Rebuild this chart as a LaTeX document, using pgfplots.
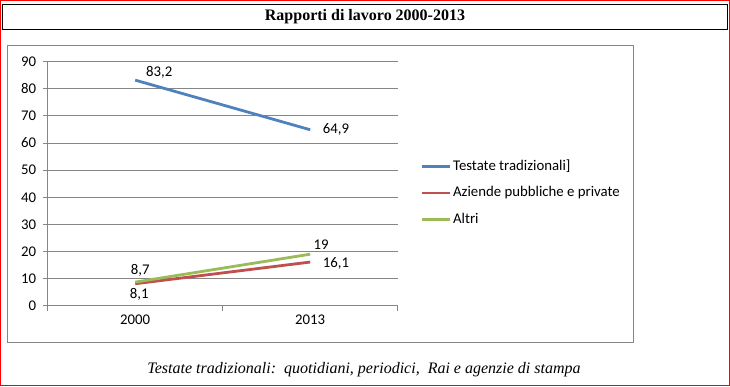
\documentclass[border=0pt]{standalone}
\usepackage{pgfplots}
\pgfplotsset{compat=1.18}
\usepackage{fontspec}
\setmainfont{Carlito}
\newfontfamily\tnr{Liberation Serif}
\definecolor{cblue}{HTML}{4F81BD}
\definecolor{cred}{HTML}{C0504D}
\definecolor{cgreen}{HTML}{9BBB59}
\definecolor{cgrid}{HTML}{868686}
\newcommand{\cf}{\fontsize{14.8}{16}\selectfont}
\begin{document}
\begin{tikzpicture}[x=1pt,y=1pt]
\path (0,0) rectangle (730,386);
\draw[red, line width=1.3pt] (0.65,0.65) rectangle (729.35,385.35);
\draw[black, line width=1.2pt] (2.2,386-4.5) rectangle (727.5,386-29.5);
\node[font=\tnr\bfseries\fontsize{16}{18}\selectfont] at (365,386-17) {Rapporti di lavoro 2000-2013};
\draw[cgrid, line width=0.9pt] (7.5,386-45) rectangle (633.5,386-342);
\node[font=\tnr\itshape\fontsize{16}{18}\selectfont] at (364,386-370) {Testate tradizionali:\ \ quotidiani, periodici,\ \ Rai e agenzie di stampa};
\begin{axis}[
  at={(47.7pt,80.3pt)}, anchor=south west,
  scale only axis, width=350pt, height=244pt,
  xmin=0, xmax=2, ymin=0, ymax=90,
  axis x line*=bottom, axis y line*=left,
  axis line style={draw=cgrid, line width=0.9pt, -},
  ymajorgrids, grid style={draw=cgrid, line width=0.9pt},
  ytick={0,10,...,90},
  xtick={0.5,1.5}, xticklabels={2000,2013},
  minor xtick={0,1,2},
  tick align=outside, major tick length=5pt, minor tick length=5pt,
  major x tick style={draw=none},
  tick style={draw=cgrid, line width=0.9pt},
  minor tick style={draw=cgrid, line width=0.9pt},
  /pgf/number format/assume math mode=true,
  ticklabel style={font=\cf},
  yticklabel style={xshift=-3pt},
  xticklabel style={yshift=-1pt},
  legend style={at={(1.064,0.462)}, anchor=west, draw=none, fill=none,
    font=\cf, row sep=9pt, inner sep=0pt,
    nodes={text height=10.5pt, text depth=3pt, inner sep=2pt}},
  legend cell align=left,
  legend image code/.code={\draw[#1] (0pt,0pt) -- (28pt,0pt);},
]
\addplot[cblue, line width=2.8pt] coordinates {(0.5,83.2) (1.5,64.9)};
\addlegendentry{Testate tradizionali]}
\addplot[cred, line width=2.8pt] coordinates {(0.5,8.1) (1.5,16.1)};
\addlegendentry{Aziende pubbliche e private}
\addplot[cgreen, line width=2.8pt] coordinates {(0.5,8.7) (1.5,19)};
\addlegendentry{Altri}
\begin{scope}[every node/.style={font=\cf}]
\node[xshift=24pt, yshift=7.7pt] at (axis cs:0.5,83.2) {83,2};
\node[xshift=25.7pt, yshift=0pt] at (axis cs:1.5,64.9) {64,9};
\node[xshift=11pt, yshift=9.7pt] at (axis cs:1.5,19) {19};
\node[xshift=25.7pt, yshift=-1pt] at (axis cs:1.5,16.1) {16,1};
\node[xshift=5pt, yshift=11.4pt] at (axis cs:0.5,8.7) {8,7};
\node[xshift=4pt, yshift=-10.6pt] at (axis cs:0.5,8.1) {8,1};
\end{scope}
\end{axis}
\end{tikzpicture}
\end{document}
